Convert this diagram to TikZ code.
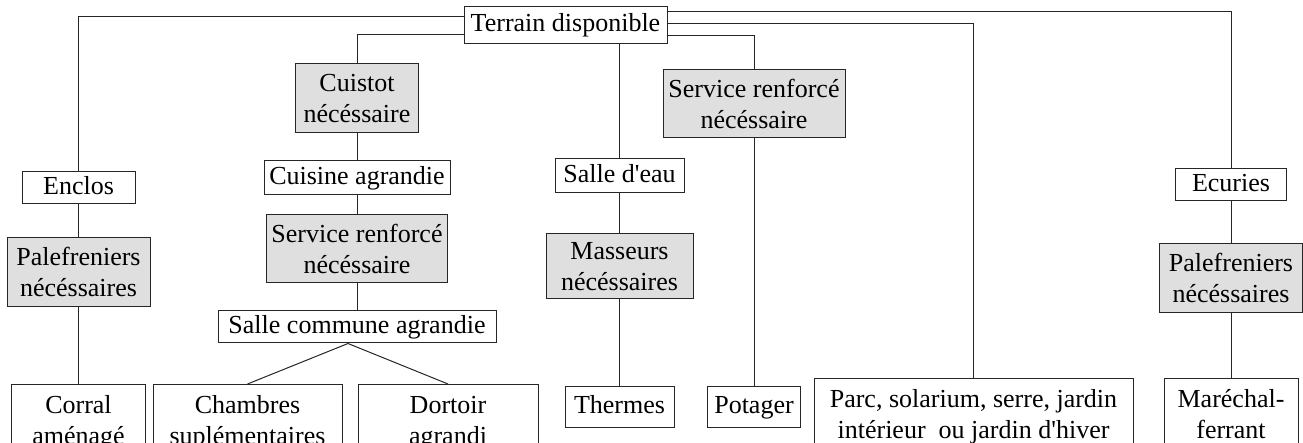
\documentclass[tikz,border=0pt]{standalone}
\usepackage{fontspec}
\setmainfont{Liberation Serif}[Ligatures=TeXOff]
\begin{document}
\begin{tikzpicture}[x=1pt,y=-1pt,
  box/.style={draw=black!85, line width=1pt, fill=white, inner sep=0pt, align=center,
    font=\fontsize{26}{31}\selectfont, text height=18pt, text depth=5pt},
  gbox/.style={box, fill=gray!25, text height=49pt, text depth=0pt},
  bbox/.style={box, text height=49pt, text depth=5pt, minimum height=76},
  conn/.style={draw=black!85, line width=1pt}]
\useasboundingbox (0,0) rectangle (1303,443);
\clip (0,0) rectangle (1303,443);
\node[box, minimum width=203, minimum height=37] (terrain) at (565.5,25.5) {Terrain disponible};
% column 1
\node[box, minimum width=113, minimum height=32] (enclos) at (78.5,188) {Enclos};
\node[gbox, minimum width=143, minimum height=69] (pal1) at (78.5,272.5) {Palefreniers\\nécéssaires};
\node[bbox, minimum width=134, anchor=north] (corral) at (78.5,384) {Corral\\aménagé};
% column 2
\node[gbox, minimum width=123, minimum height=69] (cuistot) at (357,98.5) {Cuistot\\nécéssaire};
\node[box, minimum width=186, minimum height=34] (cuisine) at (357,178) {Cuisine agrandie};
\node[gbox, minimum width=181, minimum height=68] (serv1) at (357,249) {Service renforcé\\nécéssaire};
\node[box, minimum width=278, minimum height=32] (salle) at (357,327) {Salle commune agrandie};
\node[bbox, minimum width=189, anchor=north] (chambres) at (247.5,384) {Chambres\\suplémentaires};
\node[bbox, minimum width=180, anchor=north] (dortoir) at (448,384) {Dortoir\\agrandi};
% column 3
\node[box, minimum width=129, minimum height=34] (eau) at (619.5,176) {Salle d'eau};
\node[gbox, minimum width=147, minimum height=65] (masseurs) at (619.5,266.5) {Masseurs\\nécéssaires};
\node[box, minimum width=109, minimum height=41] (thermes) at (619.5,406.5) {Thermes};
% column 4
\node[gbox, minimum width=182, minimum height=68] (serv2) at (754,104) {Service renforcé\\nécéssaire};
\node[box, minimum width=93, minimum height=41] (potager) at (754,406.5) {Potager};
% column 5
\node[bbox, minimum width=319, anchor=north] (parc) at (973.5,378) {Parc, solarium, serre, jardin\\intérieur~ ou jardin d'hiver};
% column 6
\node[box, minimum width=111, minimum height=32] (ecuries) at (1231,185) {Ecuries};
\node[gbox, minimum width=143, minimum height=69] (pal2) at (1231,278.5) {Palefreniers\\nécéssaires};
\node[bbox, minimum width=134, anchor=north] (marechal) at (1231,378) {Maréchal-\\ferrant};
% connectors from terrain
\draw[conn] ([yshift=8.5pt]terrain.west) -| (enclos.north);
\draw[conn] ([yshift=-9.5pt]terrain.west) -| (cuistot.north);
\draw[conn] ([yshift=13.5pt]terrain.east) -| (ecuries.north);
\draw[conn] ([yshift=1.5pt]terrain.east) -| (parc.north);
\draw[conn] ([yshift=-10.5pt]terrain.east) -| (serv2.north);
\draw[conn] (eau.north |- terrain.south) -- (eau.north);
% chains
\draw[conn] (enclos) -- (pal1);
\draw[conn] (pal1) -- (corral);
\draw[conn] (cuistot) -- (cuisine);
\draw[conn] (cuisine) -- (serv1);
\draw[conn] (serv1) -- (salle);
\draw[conn] ([xshift=-9pt]salle.south) -- (chambres.north);
\draw[conn] ([xshift=-9pt]salle.south) -- (dortoir.north);
\draw[conn] (eau) -- (masseurs);
\draw[conn] (masseurs) -- (thermes);
\draw[conn] (serv2) -- (potager);
\draw[conn] (ecuries) -- (pal2);
\draw[conn] (pal2) -- (marechal);
\end{tikzpicture}
\end{document}
